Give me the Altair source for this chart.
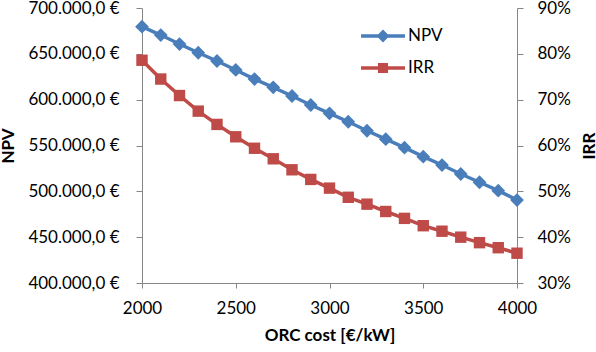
import altair as alt
import pandas as pd

orc_cost = [2000, 2100, 2200, 2300, 2400, 2500, 2600, 2700, 2800, 2900, 3000,
            3100, 3200, 3300, 3400, 3500, 3600, 3700, 3800, 3900, 4000]
npv = [679600, 670500, 660700, 651200, 642200, 632400, 622500, 613500, 604000, 594200, 585100,
       575900, 566100, 556900, 547600, 537800, 528700, 518900, 509900, 500700, 490500]
irr = [0.786, 0.745, 0.709, 0.675, 0.646, 0.619, 0.594, 0.571, 0.547, 0.526, 0.507,
       0.487, 0.472, 0.456, 0.441, 0.425, 0.413, 0.400, 0.388, 0.377, 0.365]
series_names = ["NPV", "IRR"]
series_colors = ["#4A7EBB", "#BE4B48"]

df = pd.DataFrame({"cost": orc_cost, "npv": npv, "irr": irr})
legend_df = pd.DataFrame({"series": series_names, "cost": [orc_cost[0]] * 2, "npv": [npv[0]] * 2})

FONT = "Lato"
BLUE, RED = series_colors
AXIS_COLOR = "#868686"

# legend symbols: line segment + marker, in unit coordinates (scale = sqrt(size)/2)
diamond_line = ("M-1.57,-0.13 L1.57,-0.13 L1.57,0.13 L-1.57,0.13 Z "
                "M0,-0.46 L0.46,0 L0,0.46 L-0.46,0 Z")
square_line = ("M-1.57,-0.13 L1.57,-0.13 L1.57,0.13 L-1.57,0.13 Z "
               "M-0.36,-0.36 L0.36,-0.36 L0.36,0.36 L-0.36,0.36 Z")

x_enc = alt.X("cost:Q", scale=alt.Scale(domain=[2000, 4000], nice=False, zero=False),
              axis=alt.Axis(values=[2000, 2500, 3000, 3500, 4000], format="d",
                            title="ORC cost [€/kW]", grid=False, tickSize=5, labelFlush=False,
                            labelPadding=12, titlePadding=11))

y_npv = alt.Y("npv:Q", scale=alt.Scale(domain=[400000, 700000], nice=False, zero=False),
              axis=alt.Axis(values=[400000, 450000, 500000, 550000, 600000, 650000, 700000],
                            labelExpr="format(datum.value / 1000, 'd') + '.000,0 €'",
                            title="NPV", orient="left", grid=False, tickSize=6, labelFlush=False,
                            labelPadding=17, titleX=-134, titleY=137.5, titleAngle=270,
                            titleAlign="center", titleBaseline="middle"))

y_irr = alt.Y("irr:Q", scale=alt.Scale(domain=[0.3, 0.9], nice=False, zero=False),
              axis=alt.Axis(values=[0.3, 0.4, 0.5, 0.6, 0.7, 0.8, 0.9], format=".0%",
                            title="IRR", orient="right", grid=False, tickSize=6, labelFlush=False,
                            labelPadding=14, titleX=72, titleY=137.5, titleAngle=270,
                            titleAlign="center", titleBaseline="middle"))

legend_kw = dict(title=None, orient="none", legendX=227, legendY=14,
                 symbolOpacity=1, symbolStrokeWidth=0, symbolSize=784,
                 labelFontSize=17, labelOffset=11, rowPadding=10,
                 padding=0, labelFont=FONT, labelColor="black")

base = alt.Chart(df)
npv_line = base.mark_line(color=BLUE, strokeWidth=3.5).encode(x=x_enc, y=y_npv)
npv_pts = base.mark_point(shape="diamond", filled=True, color=BLUE, size=190, opacity=1).encode(x=x_enc, y=y_npv)

legend_pts = alt.Chart(legend_df).mark_point(filled=True, opacity=0, size=784).encode(
    x=x_enc, y=y_npv,
    color=alt.Color("series:N", scale=alt.Scale(domain=series_names, range=series_colors),
                    legend=alt.Legend(**legend_kw)),
    shape=alt.Shape("series:N", scale=alt.Scale(domain=series_names, range=[diamond_line, square_line]),
                    legend=alt.Legend(**legend_kw)),
)

irr_line = base.mark_line(color=RED, strokeWidth=3.5).encode(x=x_enc, y=y_irr)
irr_pts = base.mark_point(shape="square", filled=True, color=RED, size=130, opacity=1).encode(x=x_enc, y=y_irr)

left = alt.layer(npv_line, npv_pts, legend_pts)
right = alt.layer(irr_line, irr_pts)

chart = alt.layer(left, right).resolve_scale(y="independent").properties(
    width=375, height=275,
    padding={"left": 142, "top": 8, "right": 79, "bottom": 69},
    autosize=alt.AutoSizeParams(type="none"),
    background="white",
).configure_view(stroke=None).configure_axis(
    domainColor=AXIS_COLOR, tickColor=AXIS_COLOR, domainWidth=1, tickWidth=1,
    labelFont=FONT, titleFont=FONT, labelFontSize=17, titleFontSize=17,
    labelColor="black", titleColor="black", titleFontWeight="bold",
)

chart.save("out.html", embed_options={"renderer": "svg", "actions": False})
